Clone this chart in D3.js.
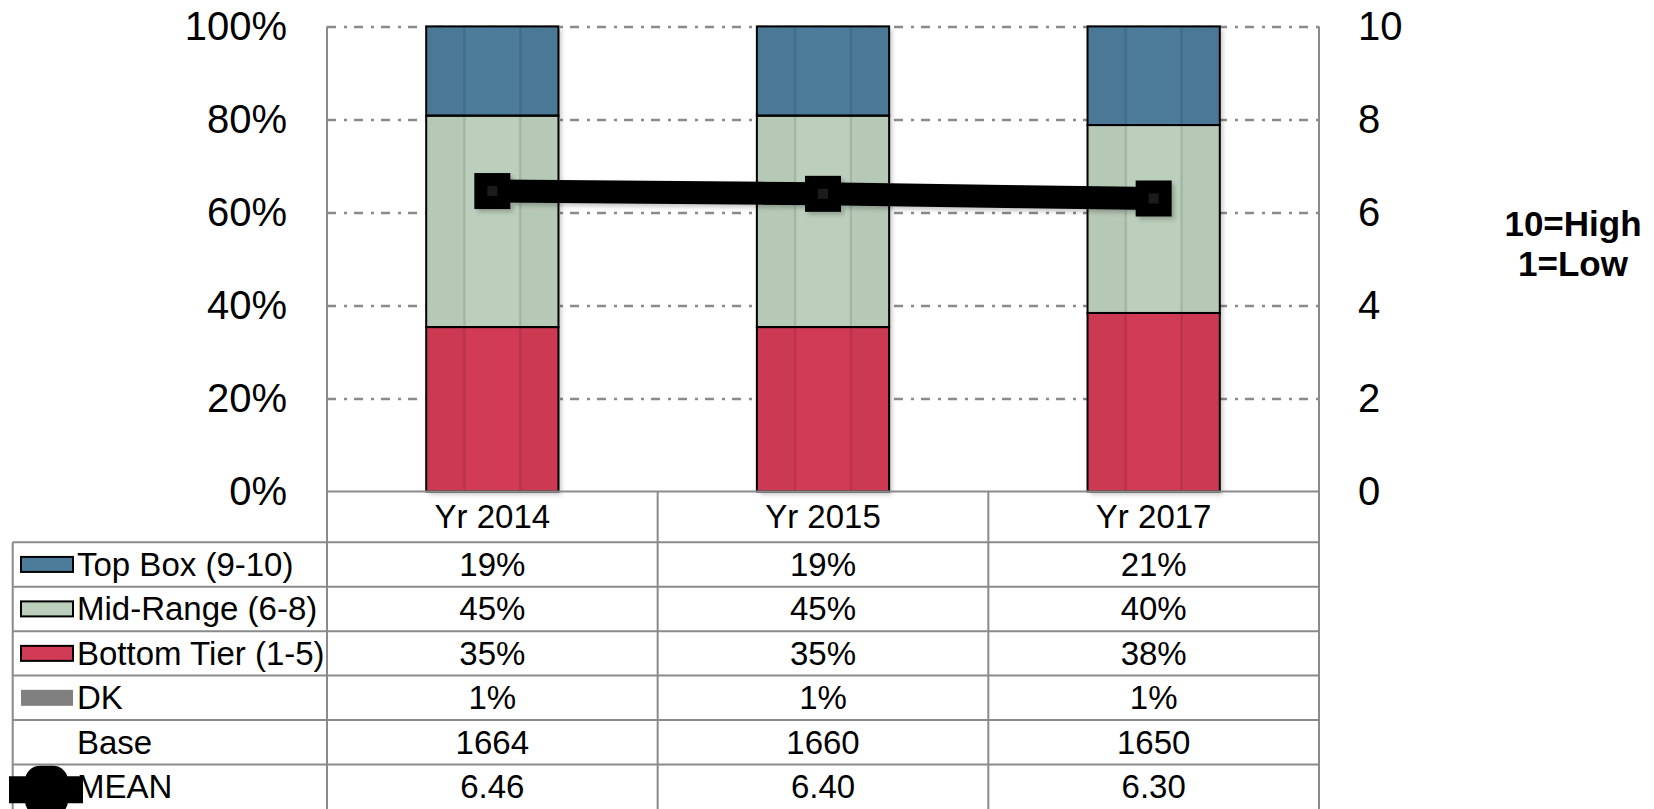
<!DOCTYPE html>
<meta charset="utf-8">
<style>
body { margin: 0; background: #fff; }
text { font-family: "Liberation Sans", Arial, sans-serif; }
</style>
<body>
<script src="https://d3js.org/d3.v7.min.js"></script>
<script>
// chart values
var categories = ["Yr 2014", "Yr 2015", "Yr 2017"];
var topBox = [19, 19, 21];
var midRange = [45, 45, 40];
var bottomTier = [35, 35, 38];
var dk = [1, 1, 1];
var base = [1664, 1660, 1650];
var mean = [6.46, 6.40, 6.30];
var pctTicks = [0, 0.2, 0.4, 0.6, 0.8, 1];
var meanTicks = [0, 2, 4, 6, 8, 10];
var rowLabels = ["Top Box (9-10)", "Mid-Range (6-8)", "Bottom Tier (1-5)", "DK", "Base", "MEAN"];
var scaleNote = ["10=High", "1=Low"];

var width = 1654,
    height = 809;

var plotLeft = 327, plotRight = 1319, plotTop = 26.4, plotBottom = 491.5;
var tableLeft = 12.7, headerBottom = 542.2;
var gridColor = "#8a8a8a";

var colors = { bottom: "#d23b56", mid: "#bccfbc", top: "#4d7b9a" };

var svg = d3.select("body").append("svg")
    .attr("width", width)
    .attr("height", height)
    .style("display", "block");

var defs = svg.append("defs");
defs.append("filter")
    .attr("id", "shadow")
    .attr("x", "-20%").attr("y", "-20%").attr("width", "140%").attr("height", "140%")
  .append("feDropShadow")
    .attr("dx", 3).attr("dy", 3)
    .attr("stdDeviation", 2)
    .attr("flood-color", "#000")
    .attr("flood-opacity", 0.22);

var x = d3.scaleBand()
    .domain(categories)
    .range([plotLeft, plotRight])
    .paddingInner(0.6)
    .paddingOuter(0.3);

var xCol = d3.scaleBand()
    .domain(categories)
    .range([plotLeft, plotRight]);

var yPct = d3.scaleLinear().domain([0, 1]).range([plotBottom, plotTop]);
var yMean = d3.scaleLinear().domain([0, 10]).range([plotBottom, plotTop]);

var rowY = d3.scaleBand()
    .domain(rowLabels)
    .range([headerBottom, height]);

// gridlines (dash-dot)
svg.append("g")
    .attr("transform", "translate(" + plotLeft + ",0)")
    .call(d3.axisRight(yPct).tickValues(pctTicks.slice(1)).tickSize(plotRight - plotLeft).tickFormat(""))
    .call(function(g) { g.select(".domain").remove(); })
    .selectAll("line")
    .attr("stroke", gridColor)
    .attr("stroke-width", 2.5)
    .attr("stroke-dasharray", "9,8,3,7");

// left axis labels
svg.append("g")
    .attr("transform", "translate(" + plotLeft + ",0)")
    .call(d3.axisLeft(yPct).tickValues(pctTicks).tickFormat(d3.format(".0%")).tickSize(0).tickPadding(40))
    .call(function(g) { g.select(".domain").remove(); })
    .selectAll("text")
    .attr("font-family", "Liberation Sans, Arial, sans-serif")
    .attr("font-size", 40)
    .attr("fill", "#000");

// right axis labels
svg.append("g")
    .attr("transform", "translate(" + plotRight + ",0)")
    .call(d3.axisRight(yMean).tickValues(meanTicks).tickSize(0).tickPadding(39))
    .call(function(g) { g.select(".domain").remove(); })
    .selectAll("text")
    .attr("font-family", "Liberation Sans, Arial, sans-serif")
    .attr("font-size", 40)
    .attr("fill", "#000");

// stacked bars
var stackData = categories.map(function(c, i) {
  return { cat: c, bottom: bottomTier[i], mid: midRange[i], top: topBox[i] };
});
var series = d3.stack()
    .keys(["bottom", "mid", "top"])
    .offset(d3.stackOffsetExpand)(stackData);

var bars = svg.append("g").attr("filter", "url(#shadow)");

bars.selectAll("g")
    .data(series)
  .enter().append("g")
    .attr("fill", function(s) { return colors[s.key]; })
  .selectAll("rect")
    .data(function(s) { return s; })
  .enter().append("rect")
    .attr("x", function(d) { return x(d.data.cat); })
    .attr("y", function(d) { return yPct(d[1]); })
    .attr("width", x.bandwidth())
    .attr("height", function(d) { return yPct(d[0]) - yPct(d[1]); });

// column shading bands
var bw = x.bandwidth();
var shade = svg.append("g");
categories.forEach(function(c) {
  var x0 = x(c);
  shade.append("rect")
      .attr("x", x0).attr("y", yPct(1))
      .attr("width", bw * 0.29).attr("height", yPct(0) - yPct(1))
      .attr("fill", "#000").attr("fill-opacity", 0.03);
  shade.append("rect")
      .attr("x", x0 + bw * 0.71).attr("y", yPct(1))
      .attr("width", bw * 0.29).attr("height", yPct(0) - yPct(1))
      .attr("fill", "#000").attr("fill-opacity", 0.03);
  [0.29, 0.71].forEach(function(f) {
    shade.append("line")
        .attr("x1", x0 + bw * f).attr("x2", x0 + bw * f)
        .attr("y1", yPct(1)).attr("y2", yPct(0))
        .attr("stroke", "#000").attr("stroke-opacity", 0.1).attr("stroke-width", 2.5);
  });
});

// segment outlines
svg.append("g").selectAll("g")
    .data(series)
  .enter().append("g")
  .selectAll("rect")
    .data(function(s) { return s; })
  .enter().append("rect")
    .attr("x", function(d) { return x(d.data.cat); })
    .attr("y", function(d) { return yPct(d[1]); })
    .attr("width", bw)
    .attr("height", function(d) { return yPct(d[0]) - yPct(d[1]); })
    .attr("fill", "none")
    .attr("stroke", "#000")
    .attr("stroke-width", 2);

// table lines
var lines = svg.append("g")
    .attr("stroke", gridColor)
    .attr("stroke-width", 2);

lines.append("line")
    .attr("x1", plotLeft).attr("x2", plotRight)
    .attr("y1", plotBottom).attr("y2", plotBottom);
lines.append("line")
    .attr("x1", plotLeft).attr("x2", plotLeft)
    .attr("y1", plotTop).attr("y2", height);
lines.append("line")
    .attr("x1", plotRight).attr("x2", plotRight)
    .attr("y1", plotTop).attr("y2", height);
lines.append("line")
    .attr("x1", tableLeft).attr("x2", tableLeft)
    .attr("y1", headerBottom).attr("y2", height);
categories.slice(1).forEach(function(c) {
  lines.append("line")
      .attr("x1", xCol(c)).attr("x2", xCol(c))
      .attr("y1", plotBottom).attr("y2", height);
});
rowLabels.forEach(function(r) {
  lines.append("line")
      .attr("x1", tableLeft).attr("x2", plotRight)
      .attr("y1", rowY(r)).attr("y2", rowY(r));
});

// mean line + markers
var line = d3.line()
    .x(function(d, i) { return x(categories[i]) + bw / 2; })
    .y(function(d) { return yMean(d); });

var meanG = svg.append("g").attr("filter", "url(#shadow)");
meanG.append("path")
    .datum(mean)
    .attr("d", line)
    .attr("fill", "none")
    .attr("stroke", "#000")
    .attr("stroke-width", 23);

meanG.selectAll("rect")
    .data(mean)
  .enter().append("rect")
    .attr("x", function(d, i) { return x(categories[i]) + bw / 2 - 18; })
    .attr("y", function(d) { return yMean(d) - 18; })
    .attr("width", 36)
    .attr("height", 36)
    .attr("fill", "#000");

svg.append("g").selectAll("rect")
    .data(mean)
  .enter().append("rect")
    .attr("x", function(d, i) { return x(categories[i]) + bw / 2 - 5; })
    .attr("y", function(d) { return yMean(d) - 5; })
    .attr("width", 10)
    .attr("height", 10)
    .attr("fill", "#1c1c1c");

// header row
var fs = 33;
svg.append("g").selectAll("text")
    .data(categories)
  .enter().append("text")
    .attr("x", function(c) { return xCol(c) + xCol.bandwidth() / 2; })
    .attr("y", (plotBottom + headerBottom) / 2)
    .attr("dy", "0.35em")
    .attr("text-anchor", "middle")
    .attr("font-size", fs)
    .text(function(c) { return c; });

// table cells
var fmtPct = function(v) { return v + "%"; };
var rowValues = [
  topBox.map(fmtPct),
  midRange.map(fmtPct),
  bottomTier.map(fmtPct),
  dk.map(fmtPct),
  base.map(String),
  mean.map(d3.format(".2f"))
];

rowLabels.forEach(function(r, ri) {
  var cy = rowY(r) + rowY.bandwidth() / 2;
  svg.append("g").selectAll("text")
      .data(rowValues[ri])
    .enter().append("text")
      .attr("x", function(v, i) { return xCol(categories[i]) + xCol.bandwidth() / 2; })
      .attr("y", cy)
      .attr("dy", "0.35em")
      .attr("text-anchor", "middle")
      .attr("font-size", fs)
      .text(function(v) { return v; });

  svg.append("text")
      .attr("x", 77)
      .attr("y", cy)
      .attr("dy", "0.35em")
      .attr("font-size", fs)
      .text(r);
});

// legend keys
var keyColors = [colors.top, colors.mid, colors.bottom];
keyColors.forEach(function(col, i) {
  var cy = rowY(rowLabels[i]) + rowY.bandwidth() / 2;
  svg.append("rect")
      .attr("x", 21).attr("y", cy - 7.5)
      .attr("width", 52).attr("height", 15)
      .attr("fill", col)
      .attr("stroke", "#000")
      .attr("stroke-width", 2);
});
var dkY = rowY("DK") + rowY.bandwidth() / 2;
svg.append("rect")
    .attr("x", 21).attr("y", dkY - 8)
    .attr("width", 52).attr("height", 16)
    .attr("fill", "#808080");

var meanY = rowY("MEAN") + rowY.bandwidth() / 2;
svg.append("line")
    .attr("x1", 9).attr("x2", 83)
    .attr("y1", meanY + 3).attr("y2", meanY + 3)
    .attr("stroke", "#000")
    .attr("stroke-width", 27);
svg.append("rect")
    .attr("x", 25).attr("y", meanY - 21)
    .attr("width", 43).attr("height", 50)
    .attr("rx", 15)
    .attr("fill", "#000");

// scale note
svg.append("g").selectAll("text")
    .data(scaleNote)
  .enter().append("text")
    .attr("x", 1573)
    .attr("y", function(d, i) { return 236 + i * 40; })
    .attr("text-anchor", "middle")
    .attr("font-size", 35)
    .attr("font-weight", "bold")
    .text(function(d) { return d; });
</script>
